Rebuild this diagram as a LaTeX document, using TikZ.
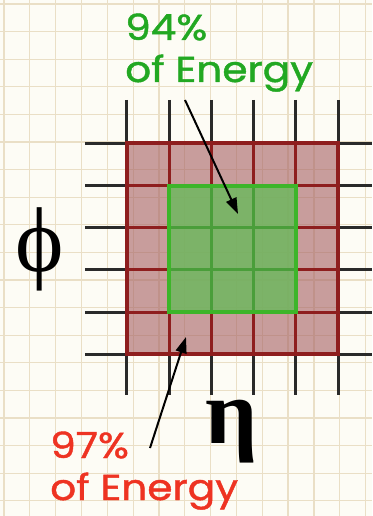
\documentclass[tikz,border=0pt]{standalone}
\usepackage{fontspec}
\setmainfont{Poppins}
\newfontfamily\labelfont[FakeStretch=1.13, FakeBold=1.2]{Poppins}
\newfontfamily\greekfont{Liberation Serif}
\usetikzlibrary{arrows.meta}
\definecolor{paper}{HTML}{FDFCF5}
\definecolor{paperline}{HTML}{EADFC6}
\definecolor{towerline}{HTML}{2A2A2A}
\definecolor{clusterred}{HTML}{8E1E1E}
\definecolor{clusterfill}{HTML}{A55F62}
\definecolor{coregreen}{HTML}{3DB52A}
\definecolor{corefill}{HTML}{6AB95C}
\definecolor{coreline}{HTML}{4A9E3A}
\definecolor{labelgreen}{HTML}{22A822}
\definecolor{labelred}{HTML}{EE3322}

\begin{document}
\begin{tikzpicture}[x=1pt, y=-1pt,
  gridline/.style={paperline, line width=1.3pt},
  tower/.style={towerline, line width=3pt},
  energy/.style={font=\labelfont\fontsize{36}{40}\selectfont, anchor=base west, inner sep=0pt},
  axislabel/.style={font=\greekfont\fontsize{92}{92}\selectfont, anchor=base, inner sep=0pt},
  pointer/.style={-{Triangle[length=16pt, width=11pt]}, black, line width=2pt, shorten >=0pt}]
  % paper background
  \fill[paper] (0,0) rectangle (372,516);
  \useasboundingbox (0,0) rectangle (372,516);
  \foreach \i in {0,...,14}
    \draw[gridline] ({4+25.83*\i},0) -- ({4+25.83*\i},516);
  \foreach \j in {0,...,18}
    \draw[gridline] (0,{4+27.6*\j}) -- (372,{4+27.6*\j});
  % calorimeter towers
  \foreach \i in {0,...,5}
    \draw[tower] ({126.7+42.3*\i},100) -- ({126.7+42.3*\i},395);
  \foreach \j in {0,...,5}
    \draw[tower] (85,{143.3+42.2*\j}) -- (372,{143.3+42.2*\j});
  % 97% cluster
  \fill[clusterfill, opacity=0.6] (126.7,143.3) rectangle (338.2,354.3);
  \begin{scope}
    \clip (126.7,143.3) rectangle (338.2,354.3);
    \foreach \i in {0,...,5}
      \draw[clusterred, line width=3pt] ({126.7+42.3*\i},100) -- ({126.7+42.3*\i},395);
    \foreach \j in {0,...,5}
      \draw[clusterred, line width=3pt] (85,{143.3+42.2*\j}) -- (372,{143.3+42.2*\j});
  \end{scope}
  \draw[clusterred, line width=4pt] (126.7,143.3) rectangle (338.2,354.3);
  % 94% core
  \fill[corefill, opacity=0.8] (169.0,185.5) rectangle (295.9,312.1);
  \begin{scope}
    \clip (169.0,185.5) rectangle (295.9,312.1);
    \foreach \i in {1,...,4}
      \draw[coreline, line width=3pt] ({126.7+42.3*\i},100) -- ({126.7+42.3*\i},395);
    \foreach \j in {1,...,4}
      \draw[coreline, line width=3pt] (85,{143.3+42.2*\j}) -- (372,{143.3+42.2*\j});
  \end{scope}
  \draw[coregreen, line width=4pt] (169.0,185.5) rectangle (295.9,312.1);
  % labels
  \node[energy, labelgreen] (corepct) at (125,40) {94\%};
  \node[energy, labelgreen] (coretext) at (125,82) {of Energy};
  \node[energy, labelred] (clusterpct) at (50,458) {97\%};
  \node[energy, labelred] (clustertext) at (50,500) {of Energy};
  \node[axislabel] (phi) at (40,271) {ϕ};
  \node[axislabel, font=\greekfont\bfseries\fontsize{92}{92}\selectfont] (eta) at (232,443) {η};
  % pointers
  \coordinate (corefrom) at (185,100);
  \coordinate (coreto) at (238,214);
  \coordinate (clusterfrom) at (150,448);
  \coordinate (clusterto) at (186,337);
  \draw[pointer] (corefrom) -- (coreto);
  \draw[pointer] (clusterfrom) -- (clusterto);
\end{tikzpicture}
\end{document}
